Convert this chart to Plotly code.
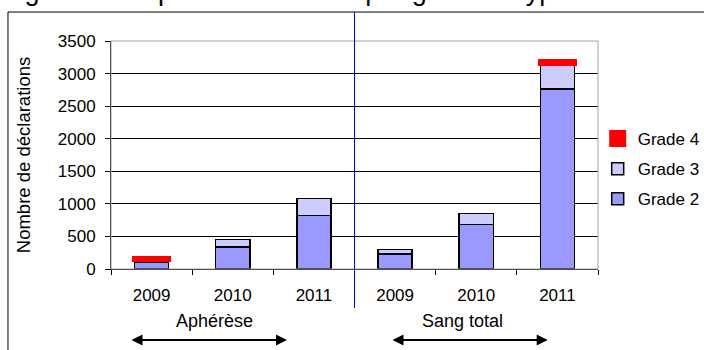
import plotly.graph_objects as go

# ---- data ----
categories = ["Aphérèse 2009", "Aphérèse 2010", "Aphérèse 2011",
              "Sang total 2009", "Sang total 2010", "Sang total 2011"]
year_labels = ["2009", "2010", "2011", "2009", "2010", "2011"]
group_labels = ["Aphérèse", "Sang total"]
grade2 = [105, 340, 820, 230, 685, 2760]
grade3 = [45, 115, 260, 70, 170, 400]
grade4 = [10, None, None, None, None, 25]
y_ticks = [0, 500, 1000, 1500, 2000, 2500, 3000, 3500]

FONT = "Liberation Sans, Arial, sans-serif"

fig = go.Figure()
fig.add_trace(go.Bar(x=categories, y=grade2, name="Grade 2", legendrank=3, legendgroup="g2",
                     marker=dict(color="#9999FF", line=dict(color="black", width=1.5))))
fig.add_trace(go.Bar(x=categories, y=grade3, name="Grade 3", legendrank=2, legendgroup="g3",
                     marker=dict(color="#CCCCFF", line=dict(color="black", width=1.5))))
fig.add_trace(go.Bar(x=categories, y=grade4, name="Grade 4", legendrank=1, legendgroup="g4",
                     marker=dict(color="#FF0000", line=dict(color="#FF0000", width=5))))

fig.update_layout(
    width=704, height=350,
    margin=dict(l=111, r=106, t=41, b=81, autoexpand=False),
    paper_bgcolor="white", plot_bgcolor="white",
    barmode="stack", bargap=0.58,
    font=dict(family=FONT, size=17, color="black"),
    showlegend=True,
    legend=dict(xref="container", yref="container", x=0.849, y=0.517,
                xanchor="left", yanchor="middle", traceorder="grouped", tracegroupgap=5,
                font=dict(size=17), bgcolor="rgba(0,0,0,0)"),
    xaxis=dict(type="category", tickmode="array", tickvals=categories, ticktext=year_labels,
               tickson="boundaries", ticks="outside", ticklen=5, tickcolor="black",
               showline=True, linecolor="black", linewidth=1, showgrid=False,
               ticklabelstandoff=11, tickfont=dict(size=17), automargin=False),
    yaxis=dict(range=[0, 3500], tickmode="array", tickvals=y_ticks,
               ticks="outside", ticklen=5, tickcolor="black",
               showline=True, linecolor="black", linewidth=1,
               showgrid=True, gridcolor="black", gridwidth=1, zeroline=False,
               ticklabelstandoff=6, tickfont=dict(size=17), automargin=False,
               title=dict(text="Nombre de déclarations", font=dict(size=18.5), standoff=22)),
)

# plot-area border (gray top/right)
fig.add_shape(type="rect", xref="paper", yref="paper", x0=0, x1=1, y0=0, y1=1,
              line=dict(color="#A0A0A0", width=1), layer="above")
# outer chart frame (cropped at right/bottom)
fig.add_shape(type="rect", xref="paper", yref="paper", x0=-0.2115, x1=1.25, y0=-0.5, y1=1.127,
              line=dict(color="black", width=1), layer="above")
# blue separator between groups
fig.add_shape(type="line", xref="x", yref="paper", x0=2.5, x1=2.5, y0=-0.171, y1=1.127,
              line=dict(color="#0000FF", width=1), layer="above")

# group labels
fig.add_annotation(text=group_labels[0], xref="x", yref="paper", x=0.78, y=-0.23,
                   showarrow=False, font=dict(size=18), yanchor="middle")
fig.add_annotation(text=group_labels[1], xref="x", yref="paper", x=3.83, y=-0.23,
                   showarrow=False, font=dict(size=18), yanchor="middle")
# double arrows
for x_start, x_end in [(-0.266, 1.668), (2.95, 4.88)]:
    fig.add_annotation(text="", xref="x", yref="paper", x=x_end, y=-0.311,
                       axref="x", ayref="pixel", ax=x_start, ay=0,
                       showarrow=True, arrowhead=2, arrowside="end+start",
                       arrowwidth=2, arrowsize=1.1, arrowcolor="black",
                       standoff=0, startstandoff=0)

# cropped title (only descenders visible)
fig.add_annotation(text="Figure 9 : Répartition des EIR par grade et type de CP",
                   xref="paper", yref="paper", x=-0.228, y=1.219, xanchor="left", yanchor="middle",
                   showarrow=False, font=dict(size=27, color="black"))

fig.write_html("out.html")
